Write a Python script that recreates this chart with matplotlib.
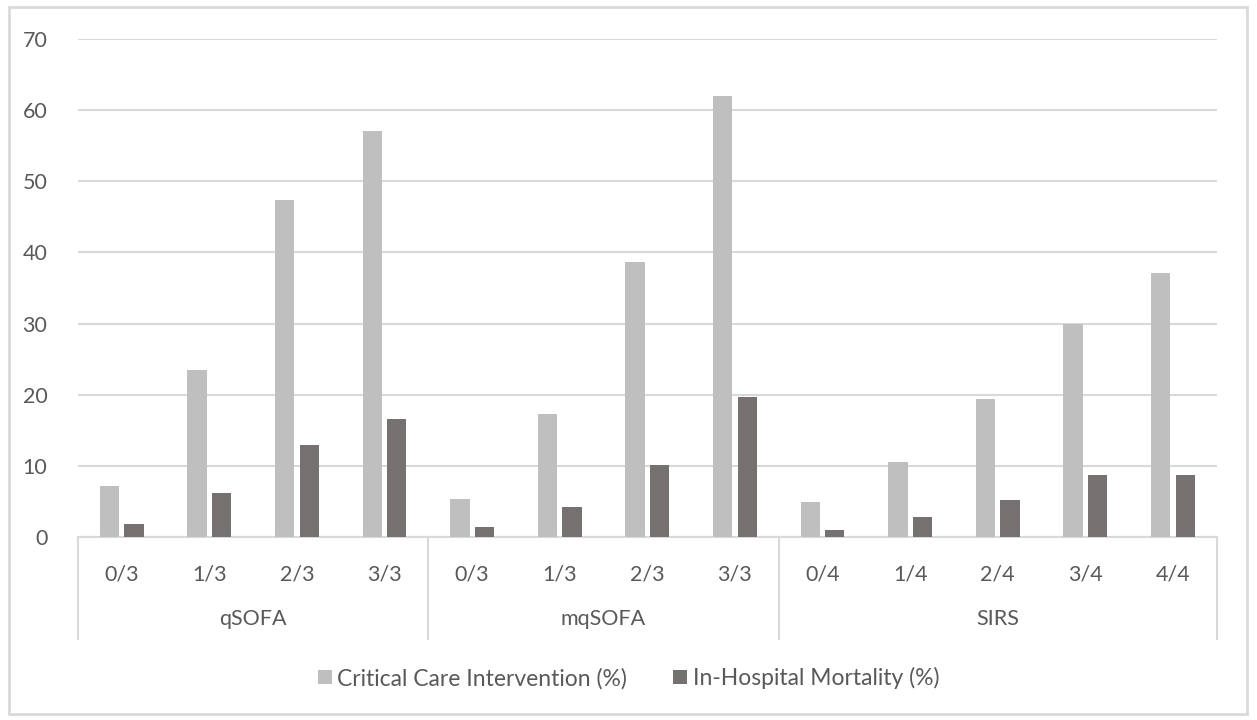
import numpy as np
import matplotlib.pyplot as plt
import matplotlib.transforms as mtransforms
from matplotlib.patches import Rectangle

# data
groups = ['qSOFA', 'mqSOFA', 'SIRS']
scores = [['0/3', '1/3', '2/3', '3/3'],
          ['0/3', '1/3', '2/3', '3/3'],
          ['0/4', '1/4', '2/4', '3/4', '4/4']]
critical_care = [7.2, 23.5, 47.4, 57.0,
                 5.3, 17.3, 38.7, 62.0,
                 4.9, 10.5, 19.4, 30.0, 37.1]
mortality = [1.8, 6.2, 12.9, 16.6,
             1.4, 4.2, 10.1, 19.7,
             1.0, 2.8, 5.2, 8.7, 8.7]
series_names = ['Critical Care Intervention (%)', 'In-Hospital Mortality (%)']

plt.rcParams['font.family'] = ['Lato', 'DejaVu Sans']
text_col = '#595959'
light = '#BFBFBF'
dark = '#767171'
line_col = '#D9D9D9'
fs = 15.5

fig = plt.figure(figsize=(12.57, 7.2), dpi=100)
ax = fig.add_axes([0.062, 0.254, 0.906, 0.692])

tick_labels = [s for g in scores for s in g]
x = np.arange(len(tick_labels))
w = 0.22
ax.bar(x - 0.14, critical_care, w, color=light, label=series_names[0], zorder=3)
ax.bar(x + 0.14, mortality, w, color=dark, label=series_names[1], zorder=3)

ax.set_xlim(-0.5, len(x) - 0.5)
ax.set_ylim(0, 70)
ax.set_yticks(range(0, 71, 10))
ax.yaxis.grid(True, color=line_col, linewidth=1.5)
ax.set_axisbelow(True)
for s in ['top', 'right', 'left']:
    ax.spines[s].set_visible(False)
ax.spines['bottom'].set_color(line_col)
ax.spines['bottom'].set_linewidth(1.5)
ax.tick_params(axis='y', length=0, labelsize=fs, labelcolor=text_col, pad=22)
ax.tick_params(axis='x', length=0, labelsize=fs, labelcolor=text_col, pad=20)
ax.set_xticks(x)
ax.set_xticklabels(tick_labels)

# group labels and separators below the axis
trans = mtransforms.blended_transform_factory(ax.transData, ax.transAxes)
start = 0
edges = [-0.5]
for g, sc in zip(groups, scores):
    mid = start + (len(sc) - 1) / 2
    ax.text(mid, -0.165, g, transform=trans, ha='center', va='center',
            fontsize=fs, color=text_col)
    start += len(sc)
    edges.append(start - 0.5)
for e in edges:
    ax.plot([e, e], [0, -0.205], transform=trans, color=line_col,
            linewidth=1.5, clip_on=False)

leg = fig.legend(loc='center', bbox_to_anchor=(0.5, 0.058), ncol=2,
                 frameon=False, fontsize=16.5, handlelength=0.6, handleheight=0.6,
                 handletextpad=0.25, columnspacing=2.0)
for t in leg.get_texts():
    t.set_color(text_col)

# outer chart frame
fig.patches.append(Rectangle((0.007, 0.009), 0.985, 0.981, transform=fig.transFigure,
                             fill=False, edgecolor=line_col, linewidth=2))

fig.savefig('out.png', dpi=100)
